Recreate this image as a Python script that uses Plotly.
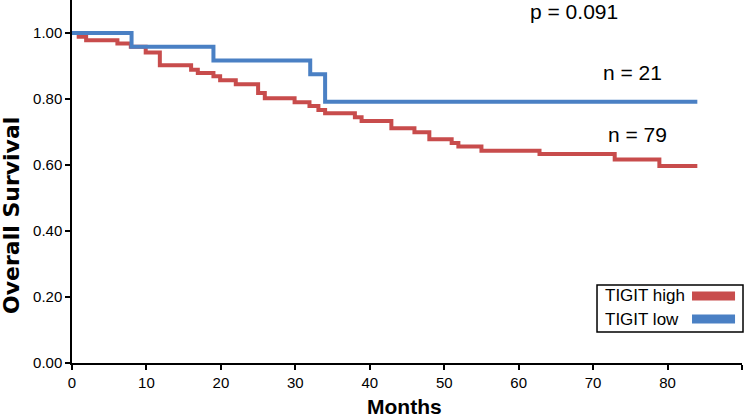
import plotly.graph_objects as go

# Kaplan-Meier step data (months, survival)
high_months = [0, 0.9, 1.9, 6.1, 7.9, 9.9, 11.8, 16.0, 16.9, 19.0, 19.9, 22.0,
               25.0, 25.9, 29.9, 31.9, 33.1, 34.0, 38.0, 38.9, 42.9, 46.0,
               48.0, 51.0, 51.9, 55.0, 62.8, 72.9, 78.9, 84.0]
high_surv = [1.000, 0.989, 0.978, 0.968, 0.958, 0.941, 0.902, 0.889, 0.879,
             0.869, 0.857, 0.845, 0.818, 0.802, 0.790, 0.779, 0.767, 0.757,
             0.745, 0.733, 0.711, 0.699, 0.678, 0.667, 0.656, 0.643, 0.633,
             0.617, 0.597, 0.597]

low_months = [0, 8.0, 19.0, 32.0, 34.0, 84.0]
low_surv = [1.000, 0.958, 0.917, 0.875, 0.792, 0.792]

x_ticks = [0, 10, 20, 30, 40, 50, 60, 70, 80, 90]
y_ticks = [0.0, 0.2, 0.4, 0.6, 0.8, 1.0]
y_tick_labels = ["0.00", "0.20", "0.40", "0.60", "0.80", "1.00"]

series_names = ["TIGIT high", "TIGIT low"]
series_colors = ["#C84C4C", "#4A80C4"]
n_labels = ["n = 79", "n = 21"]
p_label = "p = 0.091"

FONT = "Liberation Sans, Arial, sans-serif"

fig = go.Figure()
fig.add_trace(go.Scatter(x=high_months, y=high_surv, mode="lines",
                         line=dict(shape="hv", color=series_colors[0], width=4),
                         name=series_names[0], showlegend=False))
fig.add_trace(go.Scatter(x=low_months, y=low_surv, mode="lines",
                         line=dict(shape="hv", color=series_colors[1], width=4),
                         name=series_names[1], showlegend=False))

axis_common = dict(showline=True, linecolor="black", linewidth=1.5,
                   ticks="outside", ticklen=5, tickwidth=1.5, tickcolor="black",
                   showgrid=False, zeroline=False,
                   tickfont=dict(family=FONT, size=15, color="black"))

fig.update_xaxes(range=[0, 90], tickvals=x_ticks, **axis_common)
fig.update_yaxes(range=[0, 1.1], tickvals=y_ticks, ticktext=y_tick_labels,
                 **axis_common)

def ann(x, y, text, size, xref="x", yref="y", xanchor="center",
        yanchor="middle", angle=0, family=FONT):
    return dict(x=x, y=y, xref=xref, yref=yref, text=text, showarrow=False,
                xanchor=xanchor, yanchor=yanchor, textangle=angle,
                font=dict(family=family, size=size, color="black"))

annotations = [
    ann(67.4, 1.064, p_label, 21),
    ann(75.3, 0.879, n_labels[1], 21),
    ann(76.0, 0.691, n_labels[0], 21),
    ann(0.497, -0.1185, "<b>Months</b>", 21, xref="paper", yref="paper"),
    ann(-0.0895, 0.405, "<b>Overall Survival</b>", 22, xref="paper",
        yref="paper", angle=-90, family="DejaVu Sans, Liberation Sans, Arial"),
    ann(0.7925, 0.1846, series_names[0], 17, xref="paper", yref="paper",
        xanchor="left"),
    ann(0.7925, 0.1212, series_names[1], 17, xref="paper", yref="paper",
        xanchor="left"),
]

shapes = [
    dict(type="rect", xref="paper", yref="paper", x0=0.7836, x1=1.0015,
         y0=0.0854, y1=0.2149, line=dict(color="black", width=1.5),
         fillcolor="white", layer="above"),
    dict(type="line", xref="paper", yref="paper", x0=0.9254, x1=0.9896,
         y0=0.1846, y1=0.1846, line=dict(color=series_colors[0], width=9)),
    dict(type="line", xref="paper", yref="paper", x0=0.9254, x1=0.9896,
         y0=0.1212, y1=0.1212, line=dict(color=series_colors[1], width=9)),
]

fig.update_layout(width=750, height=419,
                  margin=dict(l=72, r=8, t=0, b=56),
                  plot_bgcolor="white", paper_bgcolor="white",
                  annotations=annotations, shapes=shapes,
                  showlegend=False)

fig.write_html("out.html",
               config={"displayModeBar": False},
               post_script="document.body.style.margin='0';"
                           "document.body.style.overflow='hidden';")
